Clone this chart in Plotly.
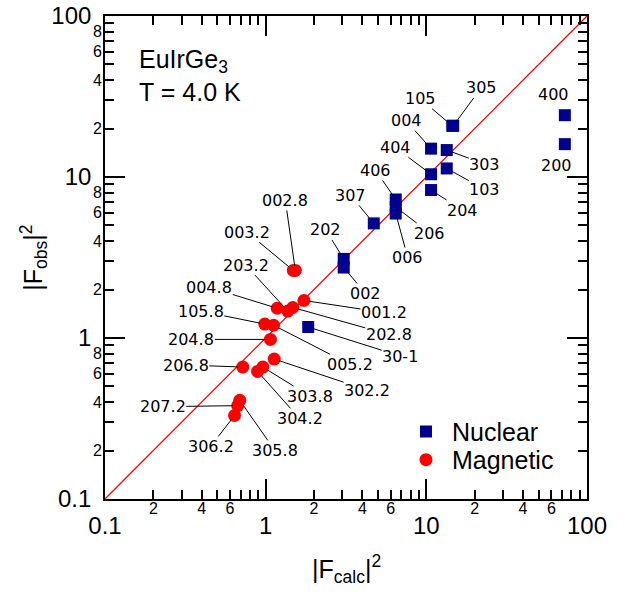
import numpy as np
import plotly.graph_objects as go

# ---------------- data ----------------
nuc_labels = ["400", "200", "305", "105", "004", "303", "404", "103", "204",
              "307", "406", "206", "006", "202", "002", "30-1"]
nuc_calc = [72.8, 72.8, 14.7, 14.5, 10.7, 13.4, 10.7, 13.4, 10.7,
            4.71, 6.45, 6.45, 6.45, 3.06, 3.06, 1.84]
nuc_obs = [24.2, 16.0, 20.8, 20.8, 15.0, 14.7, 10.4, 11.3, 8.3,
           5.15, 7.25, 6.51, 5.93, 3.10, 2.74, 1.17]

mag_labels = ["002.8", "003.2", "203.2", "004.8", "001.2", "202.8", "105.8",
              "005.2", "204.8", "302.2", "206.8", "303.8", "304.2", "207.2",
              "305.8", "306.2"]
mag_calc = [1.53, 1.485, 1.373, 1.18, 1.73, 1.475, 0.987,
            1.12, 1.07, 1.13, 0.72, 0.96, 0.89, 0.67,
            0.69, 0.64]
mag_obs = [2.63, 2.63, 1.47, 1.53, 1.71, 1.547, 1.22,
           1.20, 0.98, 0.74, 0.66, 0.66, 0.62, 0.38,
           0.41, 0.33]

diag = [0.1, 100]

major_vals = [0.1, 1, 10, 100]
major_text = ["0.1", "1", "10", "100"]
x_minor_lab_vals = [0.2, 0.4, 0.6, 2, 4, 6, 20, 40, 60]
x_minor_lab_text = ["2", "4", "6", "2", "4", "6", "2", "4", "6"]
y_minor_lab_vals = [0.2, 0.4, 0.6, 0.8, 2, 4, 6, 8, 20, 40, 60, 80]
y_minor_lab_text = ["2", "4", "6", "8", "2", "4", "6", "8", "2", "4", "6", "8"]
x_minor_vals = [0.3, 0.5, 0.7, 0.8, 0.9, 3, 5, 7, 8, 9, 30, 50, 70, 80, 90]
y_minor_vals = [0.3, 0.5, 0.7, 0.9, 3, 5, 7, 9, 30, 50, 70, 90]

# label offsets (pixels, text centre relative to the point)
nuc_offsets = [(-11, -21, False), (-8, 21, False), (28, -38, True), (-32, -27, True),
               (-25, -28, True), (38, 14, True), (-36, -27, True), (38, 21, True),
               (31, 20, True), (-23, -28, True), (-20, -29, True), (34, 26, True),
               (12, 44, True), (-18, -29, True), (22, 26, True), (92, 29, True)]
mag_offsets = [(-10, -70), (-46, -38), (-42, -46), (-68, -21), (80, 12), (96, 27),
               (-64, -13), (76, 39), (-79, 0), (93, 31), (-57, -2), (47, 29),
               (42, 47), (-75, 1), (35, 50), (-24, 31)]

NAVY = "#00008f"
RED = "#ff0000"
LABEL_FONT = dict(family="DejaVu Sans", size=16, color="black")
MAIN_FONT = "Liberation Sans"

fig = go.Figure()
fig.add_trace(go.Scatter(x=diag, y=diag, mode="lines",
                         line=dict(color=RED, width=1.3),
                         showlegend=False, hoverinfo="skip"))
fig.add_trace(go.Scatter(x=nuc_calc, y=nuc_obs, mode="markers", name="Nuclear",
                         legend="legend",
                         marker=dict(symbol="square", size=12, color=NAVY,
                                     line=dict(width=0))))
fig.add_trace(go.Scatter(x=mag_calc, y=mag_obs, mode="markers", name="Magnetic",
                         legend="legend2",
                         marker=dict(symbol="circle", size=13, color=RED,
                                     line=dict(width=0))))
# invisible trace to activate overlay axes for major labels
fig.add_trace(go.Scatter(x=[diag[0]], y=[diag[0]], xaxis="x2", yaxis="y2",
                         mode="markers", marker=dict(opacity=0),
                         showlegend=False, hoverinfo="skip"))

annotations = []
for lab, xv, yv, (dx, dy, arrow) in zip(nuc_labels, nuc_calc, nuc_obs, nuc_offsets):
    if arrow:
        annotations.append(dict(x=np.log10(xv), y=np.log10(yv), xref="x", yref="y",
                                text=lab, showarrow=True, ax=dx, ay=dy,
                                arrowhead=0, arrowwidth=1, arrowcolor="black",
                                standoff=5, font=LABEL_FONT, borderpad=0))
    else:
        annotations.append(dict(x=np.log10(xv), y=np.log10(yv), xref="x", yref="y",
                                text=lab, showarrow=False, xshift=dx, yshift=-dy,
                                font=LABEL_FONT))
for lab, xv, yv, (dx, dy) in zip(mag_labels, mag_calc, mag_obs, mag_offsets):
    annotations.append(dict(x=np.log10(xv), y=np.log10(yv), xref="x", yref="y",
                            text=lab, showarrow=True, ax=dx, ay=dy,
                            arrowhead=0, arrowwidth=1, arrowcolor="black",
                            standoff=5, font=LABEL_FONT, borderpad=0))

annotations.append(dict(x=0.066, y=0.906, xref="paper", yref="paper",
                        xanchor="left", yanchor="middle", align="left",
                        text="EuIrGe<sub>3</sub>", showarrow=False,
                        font=dict(family=MAIN_FONT, size=25, color="black")))
annotations.append(dict(x=0.066, y=0.843, xref="paper", yref="paper",
                        xanchor="left", yanchor="middle", align="left",
                        text="T = 4.0 K", showarrow=False,
                        font=dict(family=MAIN_FONT, size=25, color="black")))
annotations.append(dict(x=0.502, y=-0.145, xref="paper", yref="paper",
                        xanchor="center", yanchor="middle",
                        text="|F<sub>calc</sub>|<sup>2</sup>", showarrow=False,
                        font=dict(family=MAIN_FONT, size=25, color="black")))
annotations.append(dict(x=-0.149, y=0.5, xref="paper", yref="paper",
                        xanchor="center", yanchor="middle", textangle=-90,
                        text="|F<sub>obs</sub>|<sup>2</sup>", showarrow=False,
                        font=dict(family=MAIN_FONT, size=25, color="black")))

axis_common = dict(type="log", range=[-1, 2], showgrid=False, zeroline=False,
                   showline=True, linecolor="black", linewidth=1.6,
                   mirror="ticks", ticks="inside", tickcolor="black",
                   tickwidth=1.5, automargin=False)

legend_common = dict(xanchor="left", yanchor="middle", itemwidth=42,
                     font=dict(family=MAIN_FONT, size=25),
                     bgcolor="rgba(0,0,0,0)")

fig.update_layout(
    width=626, height=594,
    margin=dict(l=105, r=39, t=16, b=95, autoexpand=False),
    paper_bgcolor="white", plot_bgcolor="white",
    font=dict(family=MAIN_FONT, color="black"),
    xaxis=dict(**axis_common, ticklen=9, tickmode="array",
               tickvals=x_minor_lab_vals, ticktext=x_minor_lab_text,
               tickfont=dict(family=MAIN_FONT, size=16), ticklabelstandoff=-6,
               minor=dict(tickmode="array", tickvals=x_minor_vals, ticks="inside",
                          ticklen=9, tickwidth=1.5, tickcolor="black")),
    yaxis=dict(**axis_common, ticklen=9, tickmode="array",
               tickvals=y_minor_lab_vals, ticktext=y_minor_lab_text,
               tickfont=dict(family=MAIN_FONT, size=16), ticklabelstandoff=-2,
               minor=dict(tickmode="array", tickvals=y_minor_vals, ticks="inside",
                          ticklen=9, tickwidth=1.5, tickcolor="black")),
    xaxis2=dict(**axis_common, overlaying="x", anchor="y", side="bottom",
                ticklen=20, tickmode="array", tickvals=major_vals,
                ticktext=major_text, ticklabelstandoff=4,
                tickfont=dict(family=MAIN_FONT, size=24)),
    yaxis2=dict(**axis_common, overlaying="y", anchor="x", side="left",
                ticklen=20, tickmode="array", tickvals=major_vals,
                ticktext=major_text, ticklabelstandoff=7,
                tickfont=dict(family=MAIN_FONT, size=24)),
    legend=dict(**legend_common, x=0.612, y=0.139),
    legend2=dict(**legend_common, x=0.612, y=0.081),
    annotations=annotations,
)

fig.write_html("out.html")
